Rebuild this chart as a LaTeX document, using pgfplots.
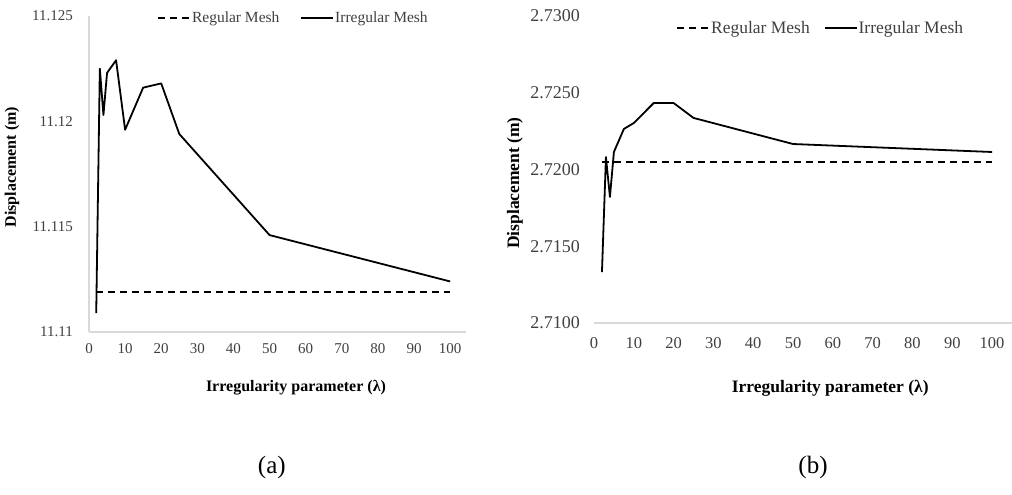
\documentclass[border=0pt]{standalone}
\usepackage{fontspec}
\setmainfont{Liberation Serif}
\usepackage{pgfplots}
\usepackage{pgfplotstable}
\pgfplotsset{compat=1.18}

\definecolor{axisgray}{HTML}{D9D9D9}
\definecolor{labelgray}{HTML}{404040}

% Panel (a): displacement against the irregularity parameter
\pgfplotstableread{
lambda disp
2     11.1109
3     11.1225
4     11.1203
5     11.1223
7.5   11.1229
10    11.1196
15    11.1216
20    11.1218
25    11.1194
50    11.1146
100   11.1124
}\irregA
\pgfplotstableread{
lambda disp
2     11.1119
100   11.1119
}\regA

% Panel (b)
\pgfplotstableread{
lambda disp
2     2.71332
3     2.72081
4     2.71821
5     2.72114
7.5   2.72264
10    2.72303
15    2.72433
20    2.72433
25    2.72336
50    2.72166
100   2.72114
}\irregB
\pgfplotstableread{
lambda disp
2     2.72049
100   2.72049
}\regB

\pgfplotsset{
  panel/.style={
    scale only axis,
    anchor=south west,
    clip=false,
    xmin=0,
    xtick={0,10,20,30,40,50,60,70,80,90,100},
    xticklabels={0,10,20,30,40,50,60,70,80,90,100},
    axis x line=bottom,
    axis y line=left,
    axis line style={-, draw=axisgray, line width=1.2pt},
    major tick length=0pt,
    tick label style={text=labelgray, inner sep=0pt},
    legend cell align=left,
    legend image code/.code={\draw[##1] (0pt,0pt) -- (32pt,0pt);},
    legend style={draw=none, fill=none, inner sep=0pt, outer sep=0pt,
      nodes={inner sep=1pt, text=labelgray},
      /tikz/every even column/.append style={column sep=20pt}},
    legend columns=2,
  },
  regular/.style={black, line width=1.8pt, dash pattern=on 7pt off 5pt},
  irregular/.style={black, line width=1.8pt, line join=round},
}

\begin{document}
\begin{tikzpicture}
\useasboundingbox (0pt,0pt) rectangle (1012pt,495pt);

% ---------------- (a) ----------------
\begin{axis}[panel,
  at={(89pt,163pt)}, width=377pt, height=316pt,
  xmax=104.4,
  ymin=11.11, ymax=11.125,
  ytick={11.11,11.115,11.12,11.125},
  yticklabels={11.11,11.115,11.12,11.125},
  xticklabel style={font=\fontsize{15}{18}\selectfont},
  yticklabel style={font=\fontsize{15}{18}\selectfont},
  xticklabel shift=11pt, yticklabel shift=16pt,
  xlabel={\textbf{Irregularity parameter (λ)}},
  ylabel={\textbf{Displacement (m)}},
  every axis x label/.style={at={(axis description cs:0.549,-0.177)}, anchor=center,
    font=\fontsize{16}{19}\selectfont, text=black},
  every axis y label/.style={at={(axis description cs:-0.204,0.522)}, anchor=center,
    rotate=90, font=\fontsize{16}{19}\selectfont, text=black},
  legend style={at={(axis description cs:0.181,0.994)}, anchor=west,
    font=\fontsize{15.5}{18}\selectfont},
]
\addplot[regular] table[x=lambda, y=disp] {\regA};
\addlegendentry{Regular Mesh}
\addplot[irregular] table[x=lambda, y=disp] {\irregA};
\addlegendentry{Irregular Mesh}
\node[font=\fontsize{25}{30}\selectfont] at (axis description cs:0.485,-0.430) {(a)};
\end{axis}

% ---------------- (b) ----------------
\begin{axis}[panel,
  at={(594pt,172pt)}, width=418pt, height=307pt,
  xmax=105,
  ymin=2.71, ymax=2.73,
  ytick={2.71,2.715,2.72,2.725,2.73},
  yticklabels={2.7100,2.7150,2.7200,2.7250,2.7300},
  y axis line style={draw=none},
  xticklabel style={font=\fontsize{16.5}{19}\selectfont},
  yticklabel style={font=\fontsize{18}{21}\selectfont},
  xticklabel shift=14pt, yticklabel shift=14pt,
  xlabel={\textbf{Irregularity parameter (λ)}},
  ylabel={\textbf{Displacement (m)}},
  every axis x label/.style={at={(axis description cs:0.565,-0.212)}, anchor=center,
    font=\fontsize{17.5}{21}\selectfont, text=black},
  every axis y label/.style={at={(axis description cs:-0.189,0.456)}, anchor=center,
    rotate=90, font=\fontsize{17.5}{21}\selectfont, text=black},
  legend style={at={(axis description cs:0.197,0.961)}, anchor=west,
    font=\fontsize{17.5}{21}\selectfont,
    /tikz/every even column/.append style={column sep=13pt}},
]
\addplot[regular] table[x=lambda, y=disp] {\regB};
\addlegendentry{Regular Mesh}
\addplot[irregular] table[x=lambda, y=disp] {\irregB};
\addlegendentry{Irregular Mesh}
\node[font=\fontsize{25}{30}\selectfont] at (axis description cs:0.524,-0.472) {(b)};
\end{axis}
\end{tikzpicture}
\end{document}
